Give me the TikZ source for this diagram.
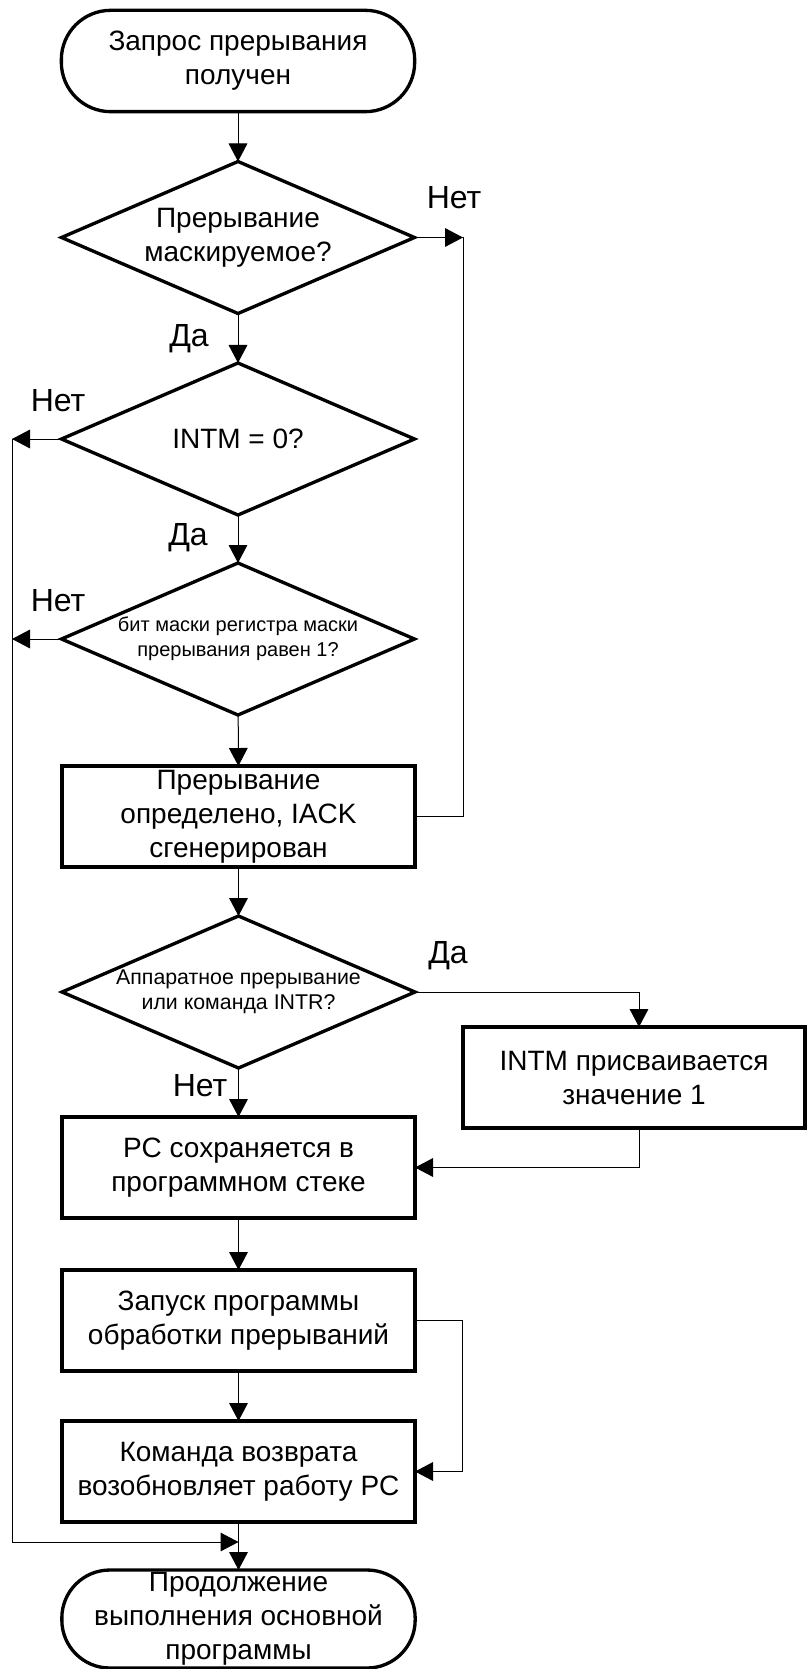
\documentclass[tikz,border=0pt]{standalone}
\usepackage{fontspec}
\setmainfont{Liberation Sans}
\usetikzlibrary{shapes.geometric,arrows.meta}
\begin{document}
\begin{tikzpicture}[x=0.75pt,y=-0.75pt,
  every node/.style={inner sep=0pt, outer sep=0pt},
  bigtext/.style={align=center, font=\fontsize{21}{25.5}\selectfont},
  proc/.style={bigtext, draw, line width=2.5pt, rectangle, minimum width=264.75pt, minimum height=75.75pt},
  term/.style={bigtext, draw, line width=2.5pt, rectangle, rounded corners=37pt, minimum width=265pt, minimum height=76pt},
  dec/.style={draw, line width=2.5pt, diamond, minimum width=264.75pt, minimum height=114pt},
  smalltext/.style={align=center, font=\fontsize{15}{18.75}\selectfont},
  lbl/.style={font=\fontsize{24}{28}\selectfont},
  conn/.style={line width=0.75pt},
  arr/.style={conn, -{Triangle[length=13.5pt,width=14pt]}},
]
\useasboundingbox (0,0) rectangle (807,1669);

% shapes
\node[term] (start) at (238,61) {Запрос прерывания\\получен};
\node[dec] (d1) at (238,237.5) {};
\node[bigtext] (d1t) at (238,237.5) {Прерывание\\маскируемое?};
\node[dec] (d2) at (238,439) {};
\node[bigtext] (d2t) at (238,439) {INTM = 0?};
\node[dec] (d3) at (238,639) {};
\node[smalltext] (d3t) at (238,639) {бит маски регистра маски\\прерывания равен 1?};
\node[proc] (b1) at (238.5,816.5) {Прерывание\\определено, IACK\\сгенерирован};
\node[dec] (d4) at (238.5,992) {};
\node[smalltext, font=\fontsize{16}{19}\selectfont] (d4t) at (238.5,992) {Аппаратное прерывание\\или команда INTR?};
\node[proc, minimum width=256.5pt] (intm) at (634,1077.5) {INTM присваивается\\значение 1};
\node[proc] (pc) at (238.5,1167.5) {PC сохраняется в\\программном стеке};
\node[proc] (run) at (238.5,1320.5) {Запуск программы\\обработки прерываний};
\node[proc] (ret) at (238.5,1471.5) {Команда возврата\\возобновляет работу PC};
\node[term, minimum height=73.5pt, rounded corners=36pt] (fin) at (238.5,1619) {Продолжение\\выполнения основной\\программы};

% labels
\node[lbl] (l1) at (454,198) {Нет};
\node[lbl] (l2) at (189,339) {Да};
\node[lbl] (l3) at (58,401) {Нет};
\node[lbl] (l4) at (188,538) {Да};
\node[lbl] (l5) at (58,601) {Нет};
\node[lbl] (l6) at (448,956) {Да};
\node[lbl] (l7) at (200,1086) {Нет};

% helper coordinates
\coordinate (r1) at (463,237.5);
\coordinate (r2) at (463,816.5);
\coordinate (lt) at (12,439);
\coordinate (lm) at (12,639);
\coordinate (lb) at (12,1542);
\coordinate (mj) at (238.5,1542);
\coordinate (y1) at (639,992);
\coordinate (y2) at (639,1167.5);
\coordinate (s1) at (462,1320.5);
\coordinate (s2) at (462,1471.5);

% connectors
\draw[arr] (start) -- (d1);
\draw[arr] (d1.east) -- (r1);
\draw[conn] (r1) -- (r2) -- (b1.east);
\draw[arr] (d1) -- (d2);
\draw[arr] (d2.west) -- (lt);
\draw[conn] (lt) -- (lb);
\draw[arr] (lb) -- (mj);
\draw[arr] (d2) -- (d3);
\draw[arr] (d3.west) -- (lm);
\draw[arr] (d3) -- (b1);
\draw[arr] (b1) -- (d4);
\draw[arr] (d4.east) -- (y1) -- (y1 |- intm.north);
\draw[arr] (d4) -- (pc);
\draw[arr] (y1 |- intm.south) -- (y2) -- (pc.east);
\draw[arr] (pc) -- (run);
\draw[arr] (run.east) -- (s1) -- (s2) -- (ret.east);
\draw[arr] (run) -- (ret);
\draw[arr] (ret) -- (fin);
\end{tikzpicture}
\end{document}
